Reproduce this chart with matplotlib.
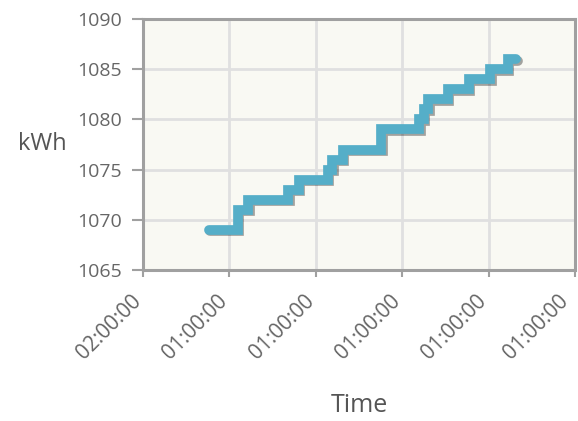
import matplotlib
matplotlib.use('Agg')
import matplotlib.pyplot as plt
import matplotlib.patheffects as pe
from matplotlib.transforms import ScaledTranslation

# step start times (in tick intervals) and meter reading
time_pos = [0.76, 1.10, 1.22, 1.68, 1.80, 2.14, 2.19, 2.31, 2.76, 3.20, 3.25, 3.30, 3.53, 3.77, 4.02, 4.22, 4.32]
kwh = [1069, 1071, 1072, 1073, 1074, 1075, 1076, 1077, 1079, 1080, 1081, 1082, 1083, 1084, 1085, 1086, 1086]

tick_labels = ['02:00:00', '01:00:00', '01:00:00', '01:00:00', '01:00:00', '01:00:00']
y_ticks = [1065, 1070, 1075, 1080, 1085, 1090]

plt.rcParams['font.family'] = ['Open Sans', 'DejaVu Sans']

fig = plt.figure(figsize=(5.78, 4.21), dpi=100)
ax = fig.add_axes([0.2474, 0.3587, 0.7474, 0.5962])
ax.set_facecolor('#f9f9f3')

ax.plot(time_pos, kwh, drawstyle='steps-post', color='#55aec8', linewidth=7,
        solid_capstyle='round', solid_joinstyle='miter',
        path_effects=[pe.SimpleLineShadow(offset=(1, -1), shadow_color='black', alpha=0.35),
                      pe.Normal()], zorder=3)

ax.set_xlim(0, 5)
ax.set_ylim(1065, 1090)
ax.set_xticks(range(6))
ax.set_yticks(y_ticks)
ax.set_xticklabels([])

# rotated time labels drawn by hand, anchored at their right end below each tick
for i, txt in enumerate(tick_labels):
    dx = -0.10 if i == len(tick_labels) - 1 else -0.05
    off = ScaledTranslation(dx, -0.28, fig.dpi_scale_trans)
    ax.text(i, 0, txt, transform=ax.get_xaxis_transform() + off,
            rotation=45, rotation_mode='anchor', ha='right', va='center',
            fontsize=15, color='#666666')

ax.grid(True, color='#e0e0e0', linewidth=2, zorder=0)
ax.set_axisbelow(True)
for s in ax.spines.values():
    s.set_color('#a0a0a0')
    s.set_linewidth(2.2)

ax.tick_params(axis='both', colors='#a0a0a0', labelcolor='#666666', width=1.5)
ax.tick_params(axis='y', length=8, pad=7, labelsize=14)
ax.tick_params(axis='x', length=5)

ax.set_ylabel('kWh', rotation=0, fontsize=17, color='#555555', va='center', ha='center')
ax.yaxis.set_label_coords(-0.234, 0.5)
ax.set_xlabel('Time', fontsize=18, color='#555555', va='center')
ax.xaxis.set_label_coords(0.5, -0.54)

fig.savefig('out.png', dpi=100)
